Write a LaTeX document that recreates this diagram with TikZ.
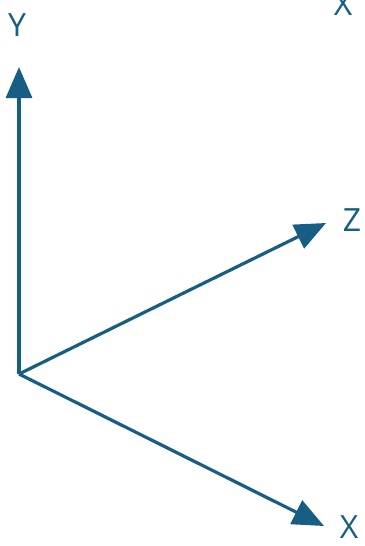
\documentclass[tikz,border=0pt]{standalone}
\usepackage{fontspec}
\setmainfont{Open Sans}
\usetikzlibrary{arrows.meta}
\definecolor{axisblue}{RGB}{22,94,132}
\begin{document}
\begin{tikzpicture}[x=1pt,y=-1pt,
  axis/.style={draw=axisblue,line width=3.2pt,-{Triangle[length=31pt,width=26pt]}},
  lbl/.style={text=axisblue,inner sep=0pt,font=\fontsize{32}{33}\selectfont},
  ]
\useasboundingbox (0,0) rectangle (364,546);
\coordinate (O) at (19,374);
\coordinate (Yt) at (19,67);
\coordinate (Zt) at (326,223);
\coordinate (Xt) at (324,526);
\draw[axis] (O) -- (Yt);
\draw[axis] (O) -- (Zt);
\draw[axis] (O) -- (Xt);
\node[lbl] (Yl) at (17,25) {Y};
\node[lbl] (Zl) at (352,220) {Z};
\node[lbl] (Xl) at (349,527) {X};
\node[lbl] (Xtop) at (343,4) {X};
\end{tikzpicture}
\end{document}
